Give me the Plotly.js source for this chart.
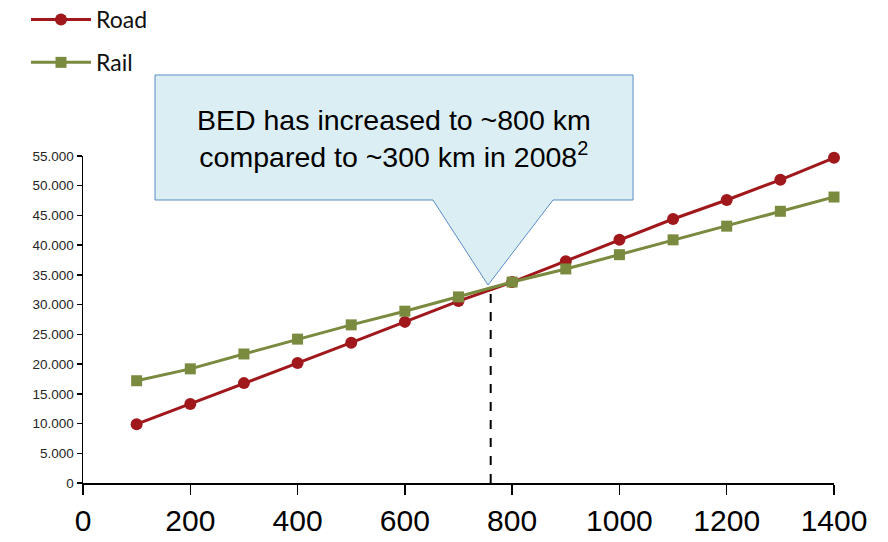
<!DOCTYPE html>
<html>
<head>
<meta charset="utf-8">
<script src="https://cdn.plot.ly/plotly-3.0.1.min.js"></script>
<style>html,body{margin:0;padding:0;background:#fff}#chart{width:888px;height:542px}</style>
</head>
<body>
<div id="chart"></div>
<script>
// Data
const distance = [100,200,300,400,500,600,700,800,900,1000,1100,1200,1300,1400];
const road = [9900,13300,16800,20200,23600,27100,30600,33800,37300,40900,44400,47600,51000,54700];
const rail = [17200,19200,21700,24200,26600,28900,31300,33800,36000,38400,40900,43200,45700,48100];
const yTickVals = [0,5000,10000,15000,20000,25000,30000,35000,40000,45000,50000,55000];
const yTickText = ['0','5.000','10.000','15.000','20.000','25.000','30.000','35.000','40.000','45.000','50.000','55.000'];
const xTickVals = [0,200,400,600,800,1000,1200,1400];
const breakEvenDistance = 760;
const breakEvenCost = 33000;
const calloutText = 'BED has increased to ~800 km<br>compared to ~300 km in 2008<sup>2</sup>';

// Layout geometry (pixels)
const W = 888, H = 542;
const L = 83, R = 834, T = 156, B = 483;
const px = v => (v - L) / (R - L);
const py = v => (B - v) / (B - T);

const callout = [[155,75],[633,75],[633,200],[553,200],[488,285],[433,200],[155,200]];
const calloutPath = 'M ' + callout.map(p => px(p[0]).toFixed(4) + ',' + py(p[1]).toFixed(4)).join(' L ') + ' Z';

const traces = [
  {x: distance, y: road, name: 'Road', type: 'scatter', mode: 'lines+markers', legendgroup: 'a', cliponaxis: false,
   line: {color: '#A0181C', width: 3}, marker: {symbol: 'circle', size: 12, color: '#A0181C'}},
  {x: distance, y: rail, name: 'Rail', type: 'scatter', mode: 'lines+markers', legendgroup: 'b', cliponaxis: false,
   line: {color: '#7A8A3F', width: 3}, marker: {symbol: 'square', size: 11, color: '#7A8A3F'}}
];

const layout = {
  width: W, height: H,
  margin: {l: L, r: W - R, t: T, b: H - B, autoexpand: false},
  paper_bgcolor: '#fff', plot_bgcolor: '#fff',
  showlegend: true,
  legend: {x: px(26), y: py(-2), xanchor: 'left', yanchor: 'top', tracegroupgap: 10, itemwidth: 60,
           font: {family: 'Lato, "Liberation Sans", sans-serif', size: 23, color: '#111'},
           bgcolor: 'rgba(0,0,0,0)'},
  xaxis: {range: [0, 1400], tickvals: xTickVals, showgrid: false, zeroline: false,
          showline: true, linecolor: '#000', linewidth: 1.5, ticks: 'outside', ticklen: 10, tickwidth: 1.5, tickcolor: '#000',
          tickfont: {family: '"Liberation Sans Narrow", "Liberation Sans", Arial, sans-serif', size: 30, color: '#000'}},
  yaxis: {range: [0, 55000], tickvals: yTickVals, ticktext: yTickText, showgrid: false, zeroline: false,
          showline: true, linecolor: '#000', linewidth: 1.5, ticks: 'outside', ticklen: 5, tickwidth: 1.5, tickcolor: '#000',
          tickfont: {family: '"Liberation Sans", Arial, sans-serif', size: 13.5, color: '#262626'}},
  shapes: [
    {type: 'line', xref: 'x', yref: 'y', x0: breakEvenDistance, x1: breakEvenDistance, y0: 0, y1: breakEvenCost,
     line: {color: '#000', width: 2, dash: 'dash'}, layer: 'above'},
    {type: 'path', xref: 'paper', yref: 'paper', path: calloutPath,
     fillcolor: '#DAEEF3', line: {color: '#5B8CC8', width: 1}, layer: 'above'}
  ],
  annotations: [
    {xref: 'paper', yref: 'paper', x: px(394), y: py(138), text: calloutText, showarrow: false,
     xanchor: 'center', yanchor: 'middle', align: 'center',
     font: {family: '"Liberation Sans", Arial, sans-serif', size: 28.5, color: '#000'}}
  ]
};

Plotly.newPlot('chart', traces, layout, {displayModeBar: false, staticPlot: true});
</script>
</body>
</html>
